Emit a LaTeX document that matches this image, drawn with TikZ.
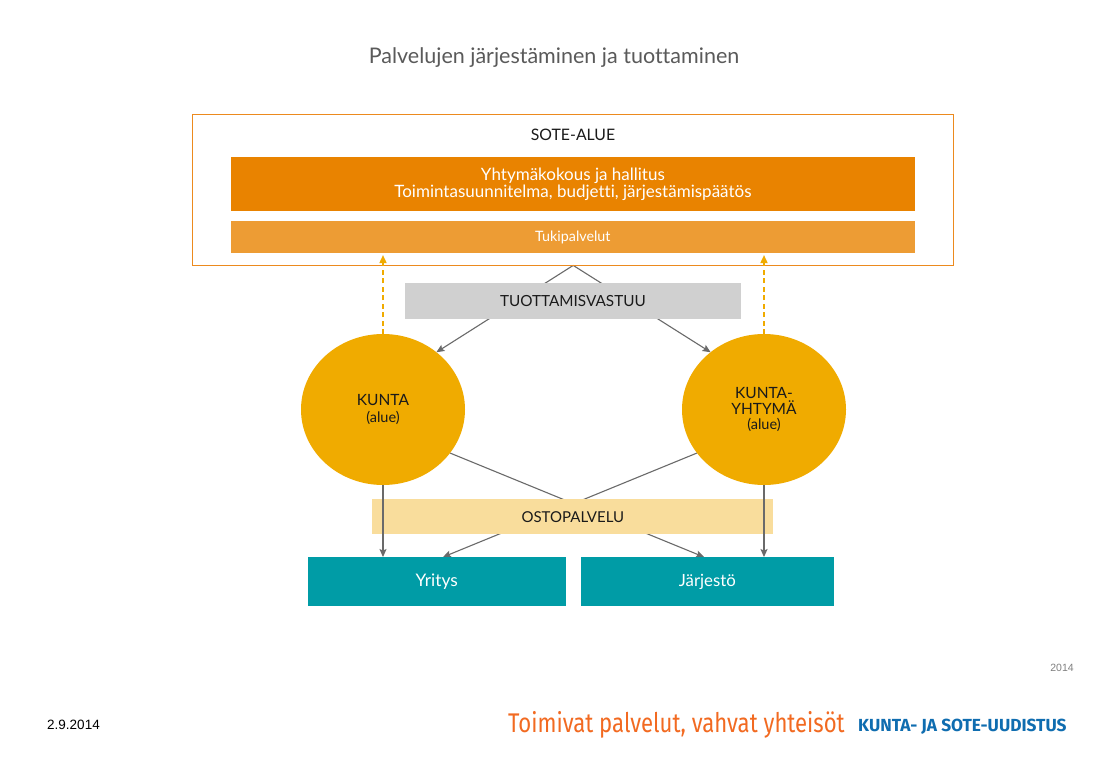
\documentclass[tikz,border=0pt]{standalone}
\usepackage{fontspec}
\setmainfont[Ligatures={NoCommon}]{Lato}
\newfontfamily\dinfont[FakeStretch=0.82]{Fira Sans}
\newfontfamily\dinbold[FakeStretch=0.99]{Fira Sans Bold}
\newfontfamily\arialfont{Liberation Sans}
\usetikzlibrary{shapes.geometric,arrows.meta,calc}
\definecolor{outerline}{HTML}{EC8A1E}
\definecolor{dkorange}{HTML}{E98300}
\definecolor{ltorange}{HTML}{ED9C34}
\definecolor{circ}{HTML}{F0AB00}
\definecolor{graybox}{HTML}{D0D0D0}
\definecolor{osto}{HTML}{F9DD9C}
\definecolor{teal}{HTML}{009CA6}
\definecolor{conn}{HTML}{6A6A6A}
\definecolor{titlegray}{HTML}{5A5A5A}
\definecolor{footorange}{HTML}{F26A21}
\definecolor{footblue}{HTML}{0F6DB0}
\definecolor{txt}{HTML}{1A1A1A}
\pgfdeclarelayer{bg}
\pgfsetlayers{bg,main}
\begin{document}
\begin{tikzpicture}[x=1pt,y=-1pt,
  box/.style={rectangle, inner sep=0pt, outer sep=0pt, align=center},
  circnode/.style={ellipse, fill=circ, inner sep=0pt, outer sep=0pt,
    minimum width=164pt, minimum height=151pt, align=center, text=txt,
    font=\fontsize{15.5}{18}\selectfont},
  gl/.style={draw=conn, line width=1.1pt, -{Stealth[length=8pt,width=7pt,inset=1.5pt]}},
  dl/.style={draw=circ, line width=1.6pt, dash pattern=on 5pt off 3.5pt,
    -{Triangle[length=8pt,width=7pt]}}
]
\begin{pgfonlayer}{bg}
\fill[white] (0,0) rectangle (1114,758);
\end{pgfonlayer}
\useasboundingbox (0,0) rectangle (1114,758);

% title
\node[text=titlegray, font=\fontsize{21.5}{23}\selectfont] (title) at (554,58) {Palvelujen järjestäminen ja tuottaminen};

% SOTE-ALUE frame
\node[box, draw=outerline, line width=1.4pt, minimum width=761pt, minimum height=151pt] (sote) at (573.2,189.9) {};
\node[text=txt, font=\fontsize{15.8}{17}\selectfont] (sotelabel) at (573,134.5) {SOTE-ALUE};
\node[box, fill=dkorange, minimum width=684.3pt, minimum height=54.3pt, text=white,
  font=\fontsize{17}{17.5}\selectfont] (hall) at (572.9,183.9) {\raisebox{-6pt}[0pt][0pt]{\begin{tabular}{@{}c@{}}Yhtymäkokous ja hallitus\\[-1pt]Toimintasuunnitelma, budjetti, järjestämispäätös\end{tabular}}};
\node[box, fill=ltorange, minimum width=684.3pt, minimum height=31.7pt, text=white,
  font=\fontsize{14.3}{15}\selectfont] (tuki) at (572.9,237.2) {Tukipalvelut};

% middle
\node[box, fill=graybox, minimum width=335.7pt, minimum height=35.7pt, text=txt,
  font=\fontsize{15.3}{16}\selectfont] (tuot) at (572.9,301.2) {TUOTTAMISVASTUU};
\node[circnode] (kunta) at (383,409.5) {KUNTA\\[-1pt]{\fontsize{14.5}{16}\selectfont (alue)}};
\node[circnode, font=\fontsize{15.5}{16.5}\selectfont] (kyht) at (764,409.5) {KUNTA-\\YHTYMÄ\\[-2pt]{\fontsize{14.5}{16}\selectfont (alue)}};
\node[box, fill=osto, minimum width=401pt, minimum height=35.3pt, text=txt,
  font=\fontsize{15}{16}\selectfont] (osto) at (572.8,516.7) {OSTOPALVELU};
\node[box, fill=teal, minimum width=258pt, minimum height=49.3pt, text=white,
  font=\fontsize{17.3}{18}\selectfont] (yrit) at (436.7,581.7) {Yritys};
\node[box, fill=teal, minimum width=253.3pt, minimum height=49.3pt, text=white,
  font=\fontsize{16.8}{18}\selectfont] (jarj) at (707.4,581.7) {Järjestö};

% connectors
\begin{pgfonlayer}{bg}
\draw[gl] (sote.south) -- (kunta.47);
\draw[gl] (sote.south) -- (kyht.133);
\draw[gl] (kunta.-33) -- ($(jarj.north west)+(123.3,0)$);
\draw[gl] (kyht.213) -- ($(yrit.north west)+(135.3,0)$);
\end{pgfonlayer}
\draw[gl] (kunta.south) -- (kunta.south |- yrit.north);
\draw[gl] (kyht.south) -- (kyht.south |- jarj.north);
\draw[dl] (kunta.north) -- ($(kunta.north |- tuki.south)+(0,2)$);
\draw[dl] (kyht.north) -- ($(kyht.north |- tuki.south)+(0,2)$);

% footer
\node[text=gray, font=\fontsize{10.5}{11}\selectfont\arialfont] (year) at (1062,668) {2014};
\node[text=black, font=\fontsize{13.5}{14}\selectfont\arialfont] (date) at (73.5,724.5) {2.9.2014};
\node[text=footorange, font=\fontsize{27}{29}\selectfont\dinfont, anchor=west, inner sep=0pt] (slogan) at (508,725) {Toimivat palvelut, vahvat yhteisöt};
\node[text=footblue, font=\fontsize{17.5}{19}\selectfont\dinbold, anchor=west, inner sep=0pt] (brand) at (858,727) {KUNTA- JA SOTE-UUDISTUS};
\end{tikzpicture}
\end{document}
